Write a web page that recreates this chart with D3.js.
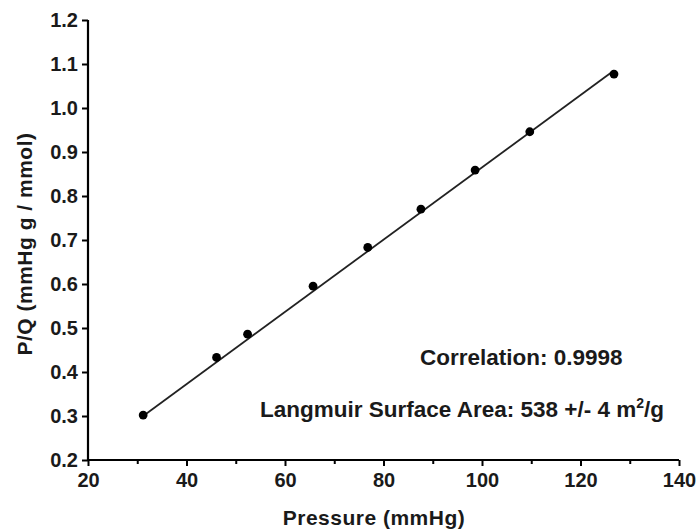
<!DOCTYPE html>
<html><head><meta charset="utf-8">
<script src="https://cdn.jsdelivr.net/npm/d3@7"></script>
<style>
body{margin:0;background:#fff;}
text{font-family:"Liberation Sans",Arial,sans-serif;font-weight:bold;fill:#1a1a1a;}
</style></head>
<body><svg id="c" width="699" height="531"></svg>
<script>
const pressure = [31.2, 46.1, 52.4, 65.7, 76.8, 87.6, 98.6, 109.7, 126.8];
const pq = [0.302, 0.433, 0.486, 0.595, 0.683, 0.770, 0.859, 0.946, 1.077];
const fitX = [31.2, 126.8];
const fitY = [0.300, 1.085];
const xTicks = [20, 40, 60, 80, 100, 120, 140];
const xMinor = [30, 50, 70, 90, 110, 130];
const yTicks = [0.2, 0.3, 0.4, 0.5, 0.6, 0.7, 0.8, 0.9, 1.0, 1.1, 1.2];

const svg = d3.select("#c");
const x = d3.scaleLinear().domain([20, 140]).range([88, 679]);
const y = d3.scaleLinear().domain([0.2, 1.2]).range([460, 20]);

// fit line
svg.append("line")
  .attr("x1", x(fitX[0])).attr("y1", y(fitY[0]))
  .attr("x2", x(fitX[1])).attr("y2", y(fitY[1]))
  .attr("stroke", "#222").attr("stroke-width", 1.8);

// points
svg.selectAll("circle.pt").data(pressure.map((p, i) => [p, pq[i]])).enter()
  .append("circle").attr("class", "pt")
  .attr("cx", d => x(d[0])).attr("cy", d => y(d[1])).attr("r", 4.4)
  .attr("fill", "#000");

// x axis
const gx = svg.append("g").attr("transform", `translate(0,${y(0.2)})`)
  .call(d3.axisBottom(x).tickValues(xTicks).tickSize(6).tickPadding(7).tickFormat(d3.format("d")));
svg.append("g").attr("transform", `translate(0,${y(0.2)})`)
  .call(d3.axisBottom(x).tickValues(xMinor).tickSize(4).tickFormat(""))
  .call(g => g.select(".domain").remove());

// y axis
const gy = svg.append("g").attr("transform", `translate(${x(20)},0)`)
  .call(d3.axisLeft(y).tickValues(yTicks).tickSize(6).tickPadding(4).tickFormat(d3.format(".1f")));

svg.selectAll(".domain").attr("stroke", "#000").attr("stroke-width", 2.2);
svg.selectAll(".tick line").attr("stroke", "#000").attr("stroke-width", 2);
svg.selectAll(".tick text").style("font-size", "20px").style("font-family", "Liberation Sans, Arial, sans-serif").style("font-weight", "bold").attr("fill", "#1a1a1a");
gx.selectAll(".domain").attr("d", `M${x(20)},0H${x(140)}`);
gy.selectAll(".domain").attr("d", `M0,${y(0.2)}V${y(1.2)}`);

// axis titles
svg.append("text").attr("x", 374).attr("y", 525).attr("text-anchor", "middle")
  .style("font-size", "21px").style("letter-spacing", "0.5px").text("Pressure (mmHg)");
svg.append("text").attr("transform", `translate(32,244) rotate(-90)`).attr("text-anchor", "middle")
  .style("font-size", "21px").style("letter-spacing", "0.5px").text("P/Q (mmHg g / mmol)");

// annotations
svg.append("text").attr("x", 420).attr("y", 365).style("font-size", "22.5px").text("Correlation: 0.9998");
const t2 = svg.append("text").attr("x", 260).attr("y", 417).style("font-size", "22.5px");
t2.append("tspan").text("Langmuir Surface Area: 538 +/- 4 m");
t2.append("tspan").attr("dy", -9).style("font-size", "14px").text("2");
t2.append("tspan").attr("dy", 9).text("/g");
</script></body></html>
